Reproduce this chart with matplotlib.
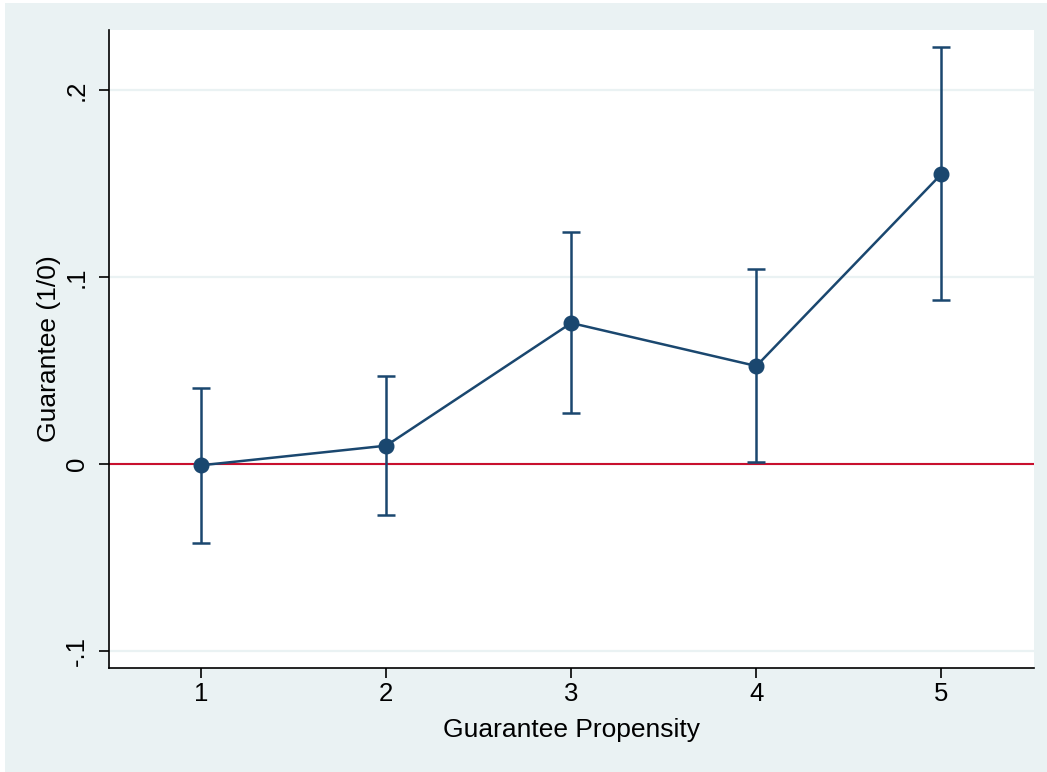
import numpy as np
import matplotlib.pyplot as plt
from matplotlib.patches import Rectangle

plt.rcParams['font.family'] = ['Liberation Sans', 'DejaVu Sans']

# coefficients by propensity level with 95% CI
levels = [1, 2, 3, 4, 5]
coef = [-0.0007, 0.0098, 0.0754, 0.0524, 0.1551]
ci_lo = [-0.0421, -0.0274, 0.0271, 0.0009, 0.0877]
ci_hi = [0.0405, 0.0472, 0.1239, 0.1041, 0.2228]
yticks = [-0.1, 0, 0.1, 0.2]
yticklabels = ['-.1', '0', '.1', '.2']

navy = '#1a476f'
bg = '#eaf2f3'

fig = plt.figure(figsize=(10.47, 7.72), dpi=100, facecolor='white')
fig.patches.append(Rectangle((5/1047, 0), 1, 1 - 3/772, transform=fig.transFigure,
                             facecolor=bg, edgecolor='none', zorder=-10))
ax = fig.add_axes([108.5/1047, 1 - 668/772, (1034 - 108.5)/1047, (668 - 30)/772])
ax.set_facecolor('white')

coef = np.array(coef)
lo = coef - np.array(ci_lo)
hi = np.array(ci_hi) - coef

for y in yticks:
    ax.axhline(y, color=bg, lw=1.6, zorder=0)
ax.axhline(0, color='#c8102e', lw=1.5, zorder=1)

ax.errorbar(levels, coef, yerr=[lo, hi], fmt='none', ecolor=navy, elinewidth=1.8,
            capsize=6.5, capthick=1.8, zorder=2)
ax.plot(levels, coef, color=navy, lw=1.8, marker='o', markersize=10.5, zorder=3)

ax.set_xlim(0.5, 5.5)
ax.set_ylim(-0.1091, 0.2321)
ax.set_xticks(levels)
ax.set_yticks(yticks)
ax.set_yticklabels(yticklabels, rotation=90, va='center')

for s in ['top', 'right']:
    ax.spines[s].set_visible(False)
for s in ['left', 'bottom']:
    ax.spines[s].set_linewidth(1.2)
    ax.spines[s].set_color('black')

ax.tick_params(axis='both', length=7, width=1.2, labelsize=18.5, direction='out')
ax.tick_params(axis='x', pad=3)
ax.tick_params(axis='y', pad=7)

ax.set_xlabel('Guarantee Propensity', fontsize=19, labelpad=9)
ax.set_ylabel('Guarantee (1/0)', fontsize=19, labelpad=3)

fig.savefig('out.png', dpi=100, facecolor=fig.get_facecolor())
